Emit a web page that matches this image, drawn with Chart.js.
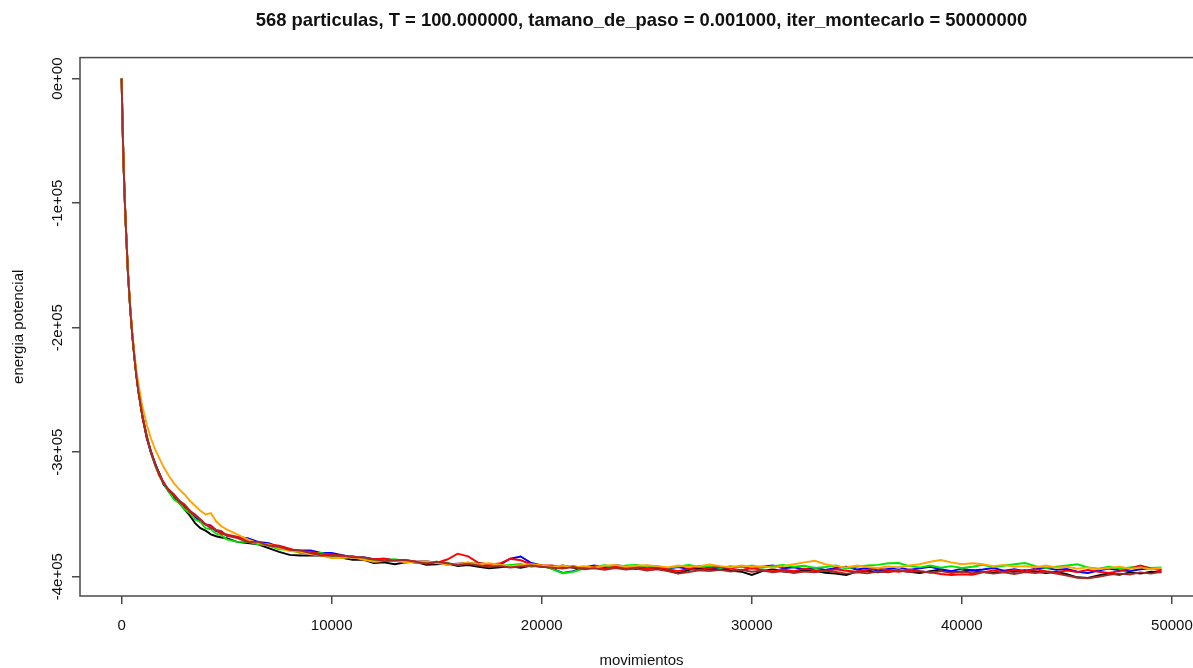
<!DOCTYPE html>
<html>
<head>
<meta charset="utf-8">
<script src="https://cdn.jsdelivr.net/npm/chart.js@4/dist/chart.umd.min.js"></script>
<style>
  html, body { margin: 0; padding: 0; background: #fff; overflow: hidden; }
  #wrap { width: 1215px; height: 668px; }
</style>
</head>
<body>
<div id="wrap"><canvas id="c" width="1215" height="668"></canvas></div>
<script>
// Monte Carlo step (x) at which each energy sample was recorded
const movimientos = [
  0, 50, 100, 150, 200, 300, 400, 500, 600, 700, 800,
  1000, 1200, 1400, 1600, 1800, 2000,
  2250, 2500, 2750, 3000, 3250, 3500, 3750, 4000, 4250, 4500, 4750, 5000,
  5500, 6000,
  6500, 7000, 7500, 8000, 8500, 9000, 9500, 10000, 10500, 11000,
  11500, 12000, 12500, 13000, 13500, 14000, 14500, 15000, 15500, 16000,
  16500, 17000, 17500, 18000, 18500, 19000, 19500, 20000,
  20500, 21000, 21500, 22000, 22500, 23000, 23500, 24000, 24500, 25000,
  25500, 26000, 26500, 27000, 27500, 28000, 28500, 29000, 29500, 30000,
  30500, 31000, 31500, 32000, 32500, 33000, 33500, 34000, 34500, 35000,
  35500, 36000, 36500, 37000, 37500, 38000, 38500, 39000, 39500, 40000,
  40500, 41000, 41500, 42000, 42500, 43000, 43500, 44000, 44500, 45000,
  45500, 46000, 46500, 47000, 47500, 48000, 48500, 49000, 49500
];

// Potential energy of each run
const corrida1 = [
  0, -40000, -72500, -97000, -118500, -155500, -182000, -204500, -222500, -238000, -251500,
  -272000, -289000, -300000, -309000, -318000, -326000, -331000, -337000, -341000, -346000,
  -351000, -357000, -361000, -363000, -366000, -367500, -368500, -369000, -372000, -373000,
  -374000, -377000, -380000, -382500, -383000, -383000, -383000, -383000, -384800, -386500,
  -386300, -389000, -388500, -390000, -388500, -388000, -390500, -390000, -389200, -391500,
  -390700, -392000, -393200, -392400, -391600, -392800, -391000, -392000,
  -392500, -391000, -392800, -393500, -392000, -391500, -393000, -392200, -393800, -392500,
  -393500, -395000, -397200, -394500, -393000, -394200, -393500, -395000, -396000, -398600,
  -395500, -394000, -395800, -396500, -394500, -395200, -396800, -397500, -398600, -396000,
  -395000, -396500, -395200, -394800, -396000, -397000, -395500, -394200, -396500, -395800,
  -394800, -396200, -397000, -395500, -396000, -394800, -395800, -397000, -396000, -398000,
  -400500, -401000, -399000, -397500, -398500, -396500, -397500, -396000, -396500
];
const corrida2 = [
  0, -39500, -72000, -96500, -118000, -155000, -181500, -204000, -222000, -237500, -251000,
  -271000, -288000, -301000, -310000, -317000, -325000, -332000, -336000, -339000, -344000,
  -347000, -352000, -356000, -358000, -359000, -363500, -364500, -367000, -368000, -369000,
  -372000, -373000, -376000, -378500, -379000, -379000, -381000, -381000, -382800, -384500,
  -384300, -386000, -385500, -387000, -388500, -388000, -387500, -389000, -390200, -389500,
  -388700, -390000, -391200, -390400, -385600, -383800, -389000, -391000,
  -393500, -397000, -395500, -392500, -391000, -392500, -390800, -391500, -392800, -391200,
  -392000, -393500, -392200, -393800, -391500, -392500, -394000, -392500, -391800, -393500,
  -392000, -391000, -393200, -392500, -394000, -392800, -394500, -393000, -392000, -394200,
  -393000, -395000, -393800, -392500, -394500, -393200, -392000, -394000, -395500, -393500,
  -395000, -394200, -393000, -395200, -394000, -395500, -393500, -392800, -394500, -393800,
  -396000, -397000, -395000, -393500, -394800, -395500, -394000, -393200, -394500
];
const corrida3 = [
  0, -40500, -72000, -97500, -118000, -155000, -182500, -204000, -222500, -238500, -251000,
  -272000, -287000, -300000, -311000, -319000, -325000, -332000, -338000, -341000, -346000,
  -349000, -354000, -356000, -361000, -362000, -365500, -366500, -370000, -372000, -372000,
  -374000, -375000, -378000, -378500, -381000, -381000, -381000, -383000, -384800, -383500,
  -385300, -387000, -386500, -386000, -387500, -389000, -388500, -388000, -389200, -390500,
  -389700, -389000, -390200, -391400, -390600, -389800, -392000, -391000,
  -394000, -397200, -396000, -393500, -392000, -390800, -392500, -391000, -390500, -392000,
  -391500, -393000, -391800, -390500, -392200, -391500, -393000, -391500, -392500, -391000,
  -392800, -391500, -390500, -392000, -391200, -393000, -392200, -391000, -393500, -392000,
  -391000, -390500, -389200, -389000, -391500, -392500, -391000, -392800, -391500, -393000,
  -392000, -390500, -392500, -391200, -390000, -389000, -391500, -393000, -392000, -391000,
  -390000, -392500, -393500, -392000, -393500, -392500, -391500, -393000, -392500
];
const corrida4 = [
  0, -40000, -71500, -97000, -117500, -154500, -182000, -203500, -221500, -238000, -250500,
  -273000, -288000, -299000, -310000, -319000, -324000, -331000, -335000, -340000, -343000,
  -348000, -351000, -354000, -358000, -359000, -362500, -365500, -366000, -368000, -371000,
  -373000, -374000, -375000, -377500, -380000, -380000, -382000, -382000, -383800, -383500,
  -386300, -386000, -385500, -387000, -386500, -388000, -389500, -389000, -386200, -381500,
  -383700, -389000, -390200, -389400, -385600, -386800, -390000, -391000,
  -391000, -392500, -391500, -393000, -392200, -393500, -392000, -393200, -392000, -393800,
  -392500, -394000, -395500, -393500, -394500, -393000, -392000, -393500, -394800, -393000,
  -394500, -395800, -394200, -395500, -393500, -394800, -395500, -394000, -395200, -396000,
  -394500, -393200, -395000, -396000, -394200, -395500, -396500, -397800, -398600, -398000,
  -398500, -396500, -395000, -396200, -394500, -395800, -394000, -395500, -396500, -395000,
  -396200, -394500, -396000, -397000, -395500, -393500, -391000, -393500, -395000
];
const corrida5 = [
  0, -39000, -71000, -96000, -117000, -153500, -180000, -201500, -219000, -234000, -245000,
  -264000, -278000, -289000, -298000, -305000, -312000, -319000, -325000, -330000, -334000,
  -339000, -343000, -347000, -350000, -349000, -355500, -359500, -362000, -366000, -370000,
  -373000, -374000, -377000, -379500, -380000, -382000, -383000, -385000, -384800, -384500,
  -386300, -388000, -387500, -387000, -388500, -388000, -387500, -389000, -390200, -389500,
  -388700, -390000, -389200, -390400, -391600, -390800, -390000, -391000,
  -392000, -391000, -392500, -391500, -392800, -391200, -390500, -392000, -391200, -390800,
  -391500, -392500, -391000, -392200, -391500, -390200, -391500, -392500, -391000, -392000,
  -391500, -392800, -391500, -390000, -388500, -387200, -390000, -391500, -392500, -391000,
  -392200, -393000, -391800, -392500, -391000, -390000, -388000, -386600, -388500, -390000,
  -389200, -390000, -391500, -390500, -392000, -391500, -392500, -391000, -392800, -392000,
  -393500, -392500, -394000, -393000, -392000, -393500, -392500, -394000, -393000
];
const corrida6 = [
  0, -40000, -72000, -97000, -118000, -155000, -182000, -204000, -222000, -238000, -251000,
  -272000, -287000, -300000, -310000, -317000, -325000, -330000, -334000, -339000, -342000,
  -347000, -350000, -354000, -358000, -361000, -362500, -363500, -367000, -369000, -372000,
  -372000, -375000, -376000, -378500, -379000, -381000, -383000, -383000, -382800, -384500,
  -384300, -386000, -387500, -387000, -386500, -388000, -389500, -388000, -389200, -390500,
  -389700, -391000, -392200, -391400, -392600, -391800, -391000, -392000,
  -392800, -393500, -392200, -394000, -393200, -394500, -393000, -394200, -393500, -395000,
  -394000, -395500, -397500, -396200, -394800, -395500, -394500, -395800, -394500, -396000,
  -395000, -396500, -395500, -397000, -395800, -396500, -395000, -396200, -397500, -396500,
  -397200, -395800, -396500, -395000, -396200, -395500, -396800, -395500, -397000, -396000,
  -397200, -396000, -397500, -396500, -397800, -396200, -397000, -396000, -397500, -399000,
  -400800, -401200, -400000, -398500, -397500, -398200, -396500, -397500, -396000
];

const series = [corrida1, corrida2, corrida3, corrida4, corrida5, corrida6];
const colores = ['#000000', '#0000ff', '#00e600', '#ff0000', '#ffa500', '#a52a2a'];

const xTickValues = [0, 10000, 20000, 30000, 40000, 50000];
const xTickLabels = ['0', '10000', '20000', '30000', '40000', '50000'];
const yTickValues = [-400000, -300000, -200000, -100000, 0];
const yTickLabels = ['-4e+05', '-3e+05', '-2e+05', '-1e+05', '0e+00'];

const FONT = '"Liberation Sans", Arial, Helvetica, sans-serif';
const AXIS_COLOR = '#4a4a4a';
const TEXT_COLOR = '#111';

// Later runs are painted over earlier ones
const datasets = series.map((s, k) => ({
  data: movimientos.map((x, i) => ({ x: x, y: s[i] })),
  borderColor: colores[k],
  borderWidth: 1.9,
  pointRadius: 0,
  tension: 0,
  fill: false,
  order: series.length - k
}));

// Frame around the plot region plus vertical tick labels on the energy axis
const marco = {
  id: 'marco',
  afterDraw(chart) {
    const { ctx, chartArea: a, scales } = chart;
    ctx.save();
    ctx.strokeStyle = AXIS_COLOR;
    ctx.lineWidth = 1.5;
    ctx.strokeRect(a.left, a.top, a.right - a.left, a.bottom - a.top);
    ctx.fillStyle = TEXT_COLOR;
    ctx.font = '15px ' + FONT;
    ctx.textAlign = 'center';
    ctx.textBaseline = 'alphabetic';
    yTickValues.forEach((v, i) => {
      const py = scales.y.getPixelForValue(v);
      ctx.save();
      ctx.translate(62, py);
      ctx.rotate(-Math.PI / 2);
      ctx.fillText(yTickLabels[i], 0, 0);
      ctx.restore();
    });
    ctx.restore();
  }
};

new Chart(document.getElementById('c'), {
  type: 'line',
  data: { datasets },
  plugins: [marco],
  options: {
    responsive: false,
    animation: false,
    devicePixelRatio: 1,
    layout: { padding: { left: 0, right: 12, top: 0, bottom: 0 } },
    plugins: {
      legend: { display: false },
      tooltip: { enabled: false },
      title: {
        display: true,
        fullSize: false,
        text: '568 particulas, T = 100.000000, tamano_de_paso = 0.001000, iter_montecarlo = 50000000',
        color: TEXT_COLOR,
        font: { family: FONT, size: 18.4, weight: 'bold' },
        padding: { top: 9.5, bottom: 26 }
      }
    },
    scales: {
      x: {
        type: 'linear',
        min: -1980,
        max: 51480,
        afterBuildTicks(scale) { scale.ticks = xTickValues.map(v => ({ value: v })); },
        afterFit(scale) { scale.height = 72; },
        ticks: {
          autoSkip: false,
          maxRotation: 0,
          padding: 13,
          color: TEXT_COLOR,
          font: { family: FONT, size: 15 },
          callback: (v) => xTickLabels[xTickValues.indexOf(v)]
        },
        grid: { drawOnChartArea: false, drawTicks: true, tickLength: 8, color: AXIS_COLOR, lineWidth: 1.5 },
        border: { display: false },
        title: {
          display: true,
          text: 'movimientos',
          color: TEXT_COLOR,
          font: { family: FONT, size: 15, lineHeight: 1 },
          padding: { top: 0, bottom: 0 }
        }
      },
      y: {
        type: 'linear',
        min: -415500,
        max: 16850,
        afterBuildTicks(scale) { scale.ticks = yTickValues.map(v => ({ value: v })); },
        afterFit(scale) { scale.width = 80; },
        ticks: { display: false },
        grid: { drawOnChartArea: false, drawTicks: true, tickLength: 8, color: AXIS_COLOR, lineWidth: 1.5 },
        border: { display: false },
        title: {
          display: true,
          text: 'energia potencial',
          color: TEXT_COLOR,
          font: { family: FONT, size: 15 },
          padding: { top: 10, bottom: 0 }
        }
      }
    }
  }
});
</script>
</body>
</html>
